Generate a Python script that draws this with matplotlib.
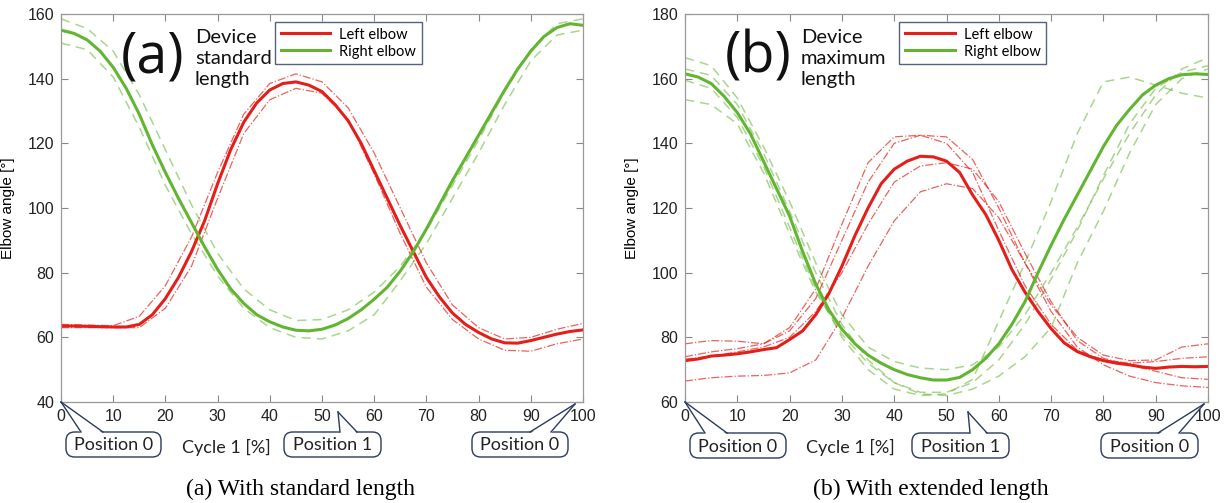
import matplotlib
matplotlib.use("Agg")
import matplotlib.pyplot as plt
from matplotlib.patches import FancyBboxPatch, Polygon
import numpy as np

# ===============================
# Data
# ===============================
x_mean = np.arange(0, 100.1, 2.5)
x_var = np.arange(0, 100.1, 5)

# (a) standard length
a_left_mean = [63.5, 63.5, 63.4, 63.3, 63.2, 63.2, 64.0, 67.0, 72.0, 78.5, 86.5, 96.0, 107.5,
               118.0, 126.5, 132.5, 136.5, 138.5, 139.0, 138.0, 136.0, 132.0, 127.0, 120.0,
               111.5, 103.0, 94.5, 86.5, 78.5, 72.5, 67.5, 64.0, 61.5, 59.5, 58.3, 58.2, 59.0,
               60.0, 61.0, 61.8, 62.3]
a_right_mean = [155.0, 154.0, 152.0, 148.5, 143.5, 137.0, 129.0, 119.5, 111.0, 103.0, 95.5,
                88.0, 81.0, 75.0, 70.5, 67.0, 64.8, 63.2, 62.2, 62.0, 62.5, 63.8, 65.8, 68.5,
                71.8, 75.5, 80.5, 86.5, 93.5, 101.0, 108.5, 115.5, 122.5, 129.5, 136.5, 143.0,
                148.5, 153.0, 155.8, 157.0, 156.5]
a_left_runs = [
    [64.0, 63.8, 63.6, 66.5, 76, 91, 111, 129, 138.5, 141.5, 139, 131, 117, 100, 83, 70, 63,
     59.5, 60, 62.5, 64.3],
    [63.0, 63.0, 63.0, 63.0, 69, 82, 103, 123, 133.5, 137, 135.5, 127.5, 110.5, 92, 75.5,
     65.5, 59.5, 56, 55.7, 58, 59.5],
]
a_right_runs = [
    [158.5, 155.5, 148.5, 135, 118, 101, 86, 75, 68.5, 65.2, 65.5, 68.5, 74, 82, 93, 107,
     121, 136, 149, 157, 158.5],
    [151, 149, 140.5, 125, 107, 92, 79, 69, 63, 60, 59.5, 62, 67, 77.5, 89, 103, 117, 132,
     145.5, 153.5, 155],
]

# (b) extended length
b_left_mean = [72.8, 73.3, 74.2, 74.5, 74.9, 75.5, 76.2, 76.8, 79.3, 82.0, 87.0, 93.5, 102.0,
               111.5, 120.0, 127.5, 132.0, 134.5, 136.0, 135.8, 134.5, 131.0, 124.0, 118.0,
               110.0, 101.0, 94.0, 88.0, 82.7, 78.3, 75.6, 74.0, 72.8, 72.0, 71.5, 70.8, 70.4,
               70.8, 71.0, 70.9, 71.0]
b_right_mean = [161.5, 160.5, 158.5, 154.5, 149.5, 143.0, 134.5, 126.0, 117.5, 106.5, 96.5,
                88.5, 82.5, 78.0, 74.5, 72.0, 70.0, 68.5, 67.5, 66.8, 66.8, 67.6, 70.0, 73.5,
                78.0, 84.0, 91.0, 100.0, 108.5, 116.5, 124.0, 131.5, 139.0, 145.5, 150.5,
                155.0, 158.0, 160.0, 161.2, 161.5, 161.3]
b_left_runs = [
    [78, 79, 78.8, 78, 82, 92, 110, 128, 140, 142.5, 142, 135, 120, 103, 90, 80, 74.5, 72.8,
     73, 77, 78],
    [74, 75.5, 76.5, 78, 83, 95, 115, 134, 142, 142.5, 140, 131, 113, 96, 84, 76, 73, 72,
     72.5, 73.5, 74],
    [73.2, 74.2, 75.5, 77, 80, 88, 100, 115, 128, 133, 134, 132, 122, 106, 91, 79, 73.5,
     71.5, 69.5, 67.5, 67],
    [66.5, 67.5, 68, 68.2, 69, 73, 86, 102, 116, 125, 127.5, 126, 117, 103, 88, 77, 71.5, 68,
     66, 65, 64.5],
]
b_right_runs = [
    [166.5, 164, 154, 139, 122, 103, 87, 77, 72.5, 70.5, 70, 71.5, 77, 87, 100, 114, 129,
     143, 155, 163, 166.5],
    [163, 161, 152, 137, 119, 100, 84, 73, 66, 63, 63, 66, 73, 84, 98, 113, 130, 146, 157,
     162, 164],
    [159.5, 157, 148, 133, 114, 95, 80, 70, 64, 62, 62.5, 67, 85, 103, 122, 143, 159, 160.5,
     158, 155.5, 154],
    [153.5, 152, 146, 131, 112, 94, 81, 72, 66, 62.5, 62, 64, 68, 74, 83, 103, 119, 137, 152,
     160, 163],
]

RED = '#e41f1a'
GREEN = '#62b530'
NAVY = '#2b3a5e'
W, H = 1227, 503

fig = plt.figure(figsize=(W / 100, H / 100), dpi=100)


def fig_xy(px, py):
    return px / W, 1 - py / H


def draw_panel(rect, ylim, left_mean, right_mean, left_runs, right_runs):
    ax = fig.add_axes(rect)
    for run in right_runs:
        ax.plot(x_var, run, color=GREEN, lw=1.1, ls=(0, (6, 4)), alpha=0.55)
    for run in left_runs:
        ax.plot(x_var, run, color=RED, lw=0.9, ls='-.', alpha=0.7)
    ax.plot(x_mean, left_mean, color=RED, lw=2.2, label='Left elbow')
    ax.plot(x_mean, right_mean, color=GREEN, lw=2.2, label='Right elbow')
    ax.set_xlim(0, 100)
    ax.set_ylim(*ylim)
    ax.set_xticks(range(0, 101, 10))
    ax.set_yticks(range(ylim[0], ylim[1] + 1, 20))
    ax.tick_params(direction='in', top=True, right=True, length=5, width=0.8,
                   color='#888888', labelsize=11.5, labelcolor='#222222', pad=5)
    for s in ax.spines.values():
        s.set_color('#999999')
        s.set_linewidth(0.9)
    for lab in ax.get_xticklabels() + ax.get_yticklabels():
        lab.set_family('Liberation Sans')
    ax.set_ylabel('Elbow angle [°]', fontsize=11, family='Liberation Sans', labelpad=9)
    leg = ax.legend(loc='upper left', bbox_to_anchor=(0.41, 0.98), fancybox=False,
                    prop={'family': 'Lato', 'size': 10.5}, handlelength=3.4,
                    borderpad=0.4, labelspacing=0.2, handletextpad=0.6, borderaxespad=0)
    leg.get_frame().set_edgecolor(NAVY)
    leg.get_frame().set_linewidth(1.0)
    return ax


def callout(text, box, tip, base):
    # box = (x0, y0, x1, y1) in pixels, tip and base points in pixels
    x0, y0, x1, y1 = box
    fx0, fy1 = fig_xy(x0, y1)
    fx1, fy0 = fig_xy(x1, y0)
    patch = FancyBboxPatch((fx0, fy1), fx1 - fx0, fy0 - fy1,
                           boxstyle='round,pad=0,rounding_size=0.007',
                           transform=fig.transFigure, facecolor='white',
                           edgecolor=NAVY, lw=1.0, mutation_aspect=W / H)
    fig.add_artist(patch)
    pts = [fig_xy(*tip), fig_xy(base[0], base[1] + 1.5), fig_xy(base[2], base[3] + 1.5)]
    fig.add_artist(Polygon(pts, closed=True, transform=fig.transFigure,
                           facecolor='white', edgecolor='none', zorder=5))
    for bx, by in [(base[0], base[1]), (base[2], base[3])]:
        p0 = fig_xy(*tip)
        p1 = fig_xy(bx, by)
        fig.add_artist(plt.Line2D([p0[0], p1[0]], [p0[1], p1[1]],
                                  transform=fig.transFigure, color=NAVY, lw=1.0, zorder=6))
    cx, cy = fig_xy((x0 + x1) / 2, (y0 + y1) / 2 + 1)
    fig.text(cx, cy, text, ha='center', va='center', fontsize=13, family='Lato',
             color='#222222', zorder=7)


ax_a = draw_panel([61 / W, 101 / H, 522 / W, 388 / H], (40, 160),
                  a_left_mean, a_right_mean, a_left_runs, a_right_runs)
ax_b = draw_panel([685 / W, 101 / H, 523 / W, 388 / H], (60, 180),
                  b_left_mean, b_right_mean, b_left_runs, b_right_runs)

# Panel tags and device notes
for ax, tag, lines, tx, dx in [(ax_a, '(a)', 'Device\nstandard\nlength', 153, 195),
                               (ax_b, '(b)', 'Device\nmaximum\nlength', 758, 801)]:
    fig.text(*fig_xy(tx, 58), tag, ha='center', va='center', fontsize=40,
             family='Open Sans', color='#111111')
    fig.text(*fig_xy(dx, 29), lines, ha='left', va='top', fontsize=14.5,
             family='Lato', color='#111111', linespacing=1.3)

# x labels and callouts
fig.text(*fig_xy(226, 447), 'Cycle 1 [%]', ha='center', va='center', fontsize=13,
         family='Lato', color='#222222')
fig.text(*fig_xy(850, 447), 'Cycle 1 [%]', ha='center', va='center', fontsize=13,
         family='Lato', color='#222222')

callout('Position 0', (66, 432, 161, 457), (61, 402), (81, 432, 103, 432))
callout('Position 1', (284, 432, 381, 457), (338, 412), (340, 432, 357, 432))
callout('Position 0', (472, 432, 568, 457), (575, 404), (530, 432, 551, 432))

callout('Position 0', (690, 433, 786, 458), (685, 402), (705, 433, 727, 433))
callout('Position 1', (912, 433, 1009, 458), (968, 412), (970, 433, 987, 433))
callout('Position 0', (1101, 433, 1198, 458), (1204, 404), (1158, 433, 1179, 433))

# Captions
fig.text(*fig_xy(300, 489), '(a) With standard length', ha='center', va='center',
         fontsize=17, family='Liberation Serif')
fig.text(*fig_xy(931, 489), '(b) With extended length', ha='center', va='center',
         fontsize=17, family='Liberation Serif')

fig.savefig('out.png', dpi=100)
